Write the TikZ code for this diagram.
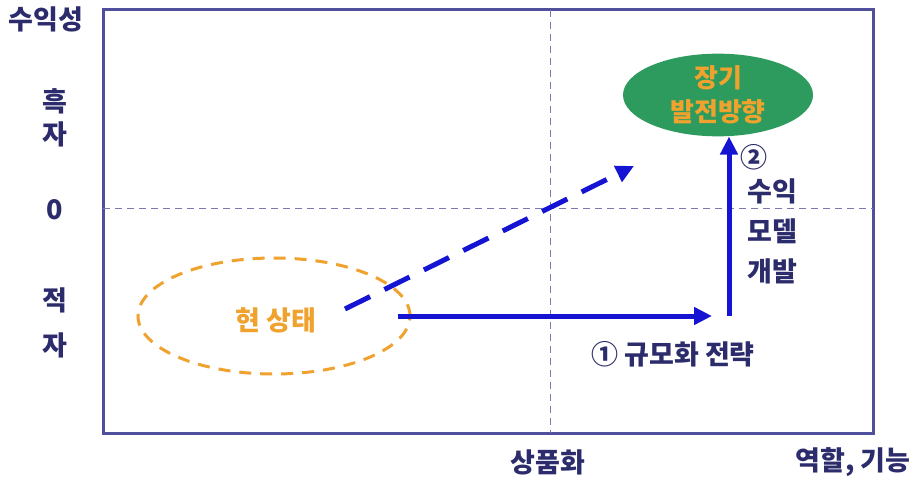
\documentclass[tikz,border=0pt]{standalone}
\usepackage{fontspec}
\setmainfont{Noto Sans CJK KR}
\usetikzlibrary{arrows.meta,shapes.geometric}
\definecolor{framec}{HTML}{4F4F9C}
\definecolor{gridc}{HTML}{7A7AB0}
\definecolor{navy}{HTML}{2C2C6C}
\definecolor{arrowc}{HTML}{1414D2}
\definecolor{goalg}{HTML}{2E9B5E}
\definecolor{orangec}{HTML}{EFA22E}
\begin{document}
\begin{tikzpicture}[x=1pt,y=-1pt,
  lbl/.style={text=navy,font=\fontsize{27}{30}\selectfont\bfseries,inner sep=0pt},
  framebox/.style={draw=framec,line width=3pt},
  gridline/.style={draw=gridc,line width=1pt,dash pattern=on 7pt off 5pt},
  bluearrow/.style={draw=arrowc,line width=5pt,-{Triangle[length=18pt,width=17pt]}},
  goalnode/.style={ellipse,fill=goalg,minimum width=190pt,minimum height=76pt,inner sep=0pt,
     text=orangec,align=center,font=\fontsize{26}{34}\selectfont\bfseries},
  curnode/.style={ellipse,draw=orangec,line width=3pt,dash pattern=on 12pt off 9pt,
     minimum width=272pt,minimum height=116pt,inner sep=0pt,
     text=orangec,font=\fontsize{27}{30}\selectfont\bfseries}]
\useasboundingbox (0,0) rectangle (923,481);
% frame and axes
\draw[framebox] (103,10) rectangle (873,433);
\coordinate (hl) at (103,208); \coordinate (hr) at (873,208);
\coordinate (vt) at (550,10); \coordinate (vb) at (550,433);
\draw[gridline] (hl) -- (hr);
\draw[gridline] (vt) -- (vb);
% axis labels
\node[lbl] (ylab) at (46,19) {수익성};
\node[lbl] (h1) at (55,101) {흑};
\node[lbl] (h2) at (55,134) {자};
\node[lbl] (zero) at (55,210) {0};
\node[lbl] (j1) at (55,300) {적};
\node[lbl] (j2) at (55,345) {자};
\node[lbl] (xprod) at (548,462) {상품화};
\node[lbl] (xrole) at (853,462) {역할, 기능};
% ellipses
\node[goalnode] (goal) at (718,95) {장기\\발전방향};
\node[curnode] (cur) at (274,316) {};
\node[lbl,text=orangec] (curtext) at (276,320) {현 상태};
% arrows
\coordinate (dstart) at (345,309);
\coordinate (dend) at (634,166);
\draw[bluearrow,dash pattern=on 28pt off 16pt] (dstart) -- (dend);
\coordinate (hstart) at (398,316);
\coordinate (hend) at (712,316);
\draw[bluearrow] (hstart) -- (hend);
\coordinate (vstart) at (729,316);
\draw[bluearrow] (vstart) -- (vstart |- goal.south);
% arrow labels
\node[lbl,anchor=west] (c2) at (740,157) {②};
\node[lbl] (m1) at (772,191) {수익};
\node[lbl] (m2) at (772,231) {모델};
\node[lbl] (m3) at (772,271) {개발};
\node[lbl] (c1) at (673,354) {① 규모화 전략};
\end{tikzpicture}
\end{document}
